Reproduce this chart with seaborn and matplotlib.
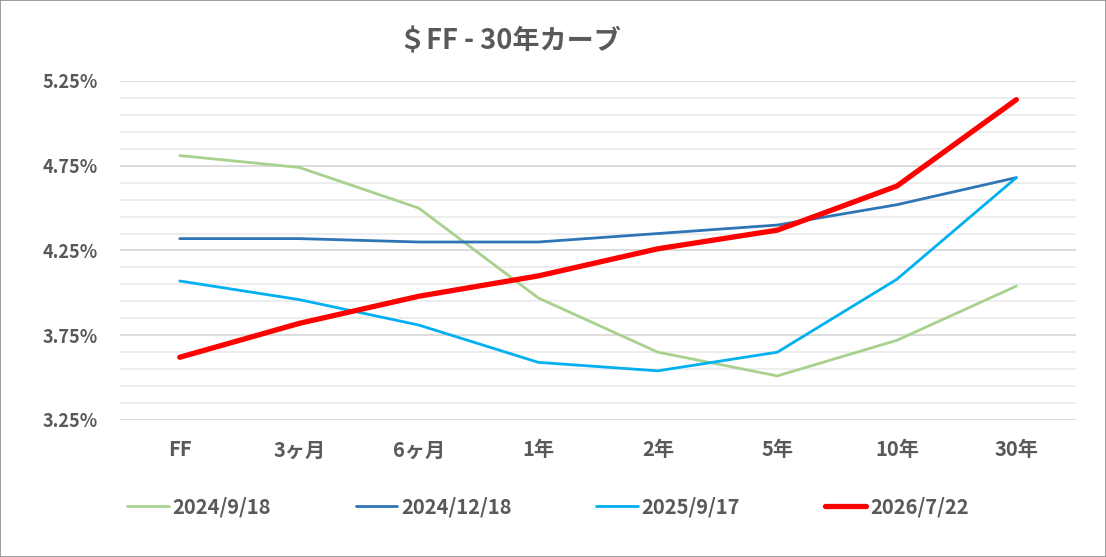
import numpy as np
import pandas as pd
import seaborn as sns
import matplotlib.pyplot as plt
from matplotlib.patches import Rectangle

# tenors on the x axis
tenors = ["FF", "3ヶ月", "6ヶ月", "1年", "2年", "5年", "10年", "30年"]

# curves (percent)
curve_20240918 = [4.81, 4.74, 4.50, 3.97, 3.65, 3.51, 3.72, 4.04]
curve_20241218 = [4.32, 4.32, 4.30, 4.30, 4.35, 4.40, 4.52, 4.68]
curve_20250917 = [4.07, 3.96, 3.81, 3.59, 3.54, 3.65, 4.08, 4.68]
curve_20260722 = [3.62, 3.82, 3.98, 4.10, 4.26, 4.37, 4.63, 5.14]

dates = ["2024/9/18", "2024/12/18", "2025/9/17", "2026/7/22"]
curves = [curve_20240918, curve_20241218, curve_20250917, curve_20260722]

y_ticks = [3.25, 3.75, 4.25, 4.75, 5.25]
y_labels = ["3.25%", "3.75%", "4.25%", "4.75%", "5.25%"]

colours = ["#A9D18E", "#2E75B6", "#00B0F0", "#FF0000"]
widths = [2.0, 2.0, 2.0, 3.8]

sns.set_style("white")
plt.rcParams["font.family"] = ["Noto Sans CJK JP", "DejaVu Sans"]
text_col = "#595959"

fig = plt.figure(figsize=(11.06, 5.57), dpi=100)
ax = fig.add_axes([0.1085, 0.246, 0.8645, 0.6086])

for date, vals, col, lw in zip(dates, curves, colours, widths):
    df = pd.DataFrame({"pos": np.arange(len(tenors)), "rate": vals})
    sns.lineplot(data=df, x="pos", y="rate", ax=ax, color=col, linewidth=lw,
                 label=date, solid_capstyle="round", solid_joinstyle="round")

ax.set_xlim(-0.5, len(tenors) - 0.5)
ax.set_ylim(y_ticks[0], y_ticks[-1])
ax.set_xticks(np.arange(len(tenors)))
ax.set_xticklabels(tenors)
ax.set_yticks(y_ticks)
ax.set_yticklabels(y_labels)
ax.set_yticks(np.arange(y_ticks[0], y_ticks[-1] + 0.01, 0.1), minor=True)
ax.grid(which="minor", axis="y", color="#ECECEC", linewidth=1.3, zorder=0)
ax.grid(which="major", axis="y", color="#D9D9D9", linewidth=1.3, zorder=0)
ax.grid(axis="x", visible=False)
ax.set_axisbelow(True)
for s in ax.spines.values():
    s.set_visible(False)
ax.tick_params(which="both", length=0)
ax.tick_params(axis="y", pad=16, labelsize=13, labelcolor=text_col)
ax.tick_params(axis="x", pad=14, labelsize=14.5, labelcolor=text_col)
for t in ax.get_xticklabels() + ax.get_yticklabels():
    t.set_fontweight("bold")
ax.set_xlabel("")
ax.set_ylabel("")

handles, labels = ax.get_legend_handles_labels()
ax.get_legend().remove()
fig.legend(handles, labels, loc="center", bbox_to_anchor=(0.4955, 0.09), ncol=4,
           frameon=False, handlelength=2.05, handletextpad=0.2, columnspacing=4.2,
           prop={"size": 14.5, "weight": "bold"}, labelcolor=text_col)

fig.text(0.461, 0.925, "＄FF - 30年カーブ", ha="center", va="center",
         fontsize=19.5, fontweight="bold", color=text_col)

fig.patches.append(Rectangle((0, 0), 1, 1, transform=fig.transFigure, fill=False,
                             edgecolor="#8C8C8C", linewidth=1.2))

fig.savefig("out.png", dpi=100)
